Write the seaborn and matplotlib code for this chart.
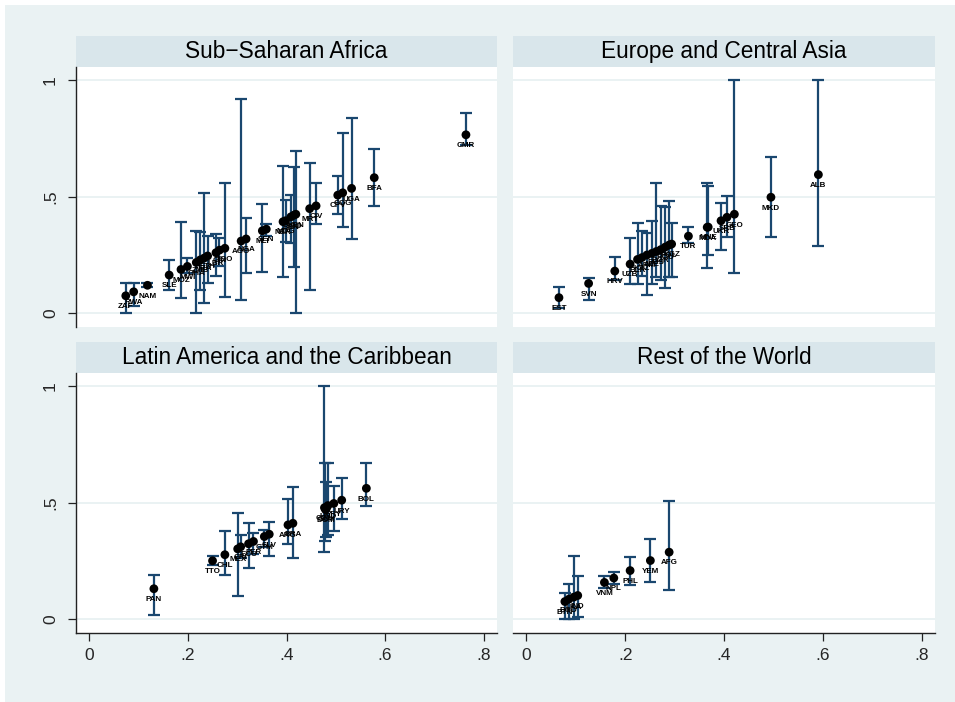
import numpy as np
import pandas as pd
import matplotlib
matplotlib.use('Agg')
import matplotlib.pyplot as plt
from matplotlib.patches import Rectangle
import seaborn as sns

# ── data ────────────────────────────────────────────────────
REGIONS = ["Sub\u2212Saharan Africa", "Europe and Central Asia",
           "Latin America and the Caribbean", "Rest of the World"]

ssa_code = ["ZAF", "RWA", "NAM", "SLE", "MOZ", "MWI", "GHA", "ZMB", "TZA", "ETH",
            "LBR", "GIN", "TGO", "AGO", "NGA", "MLI", "SEN", "NER", "MDG", "BEN",
            "SSD", "KEN", "MRT", "CIV", "CPV", "COG", "UGA", "BFA", "CMR"]
ssa_x = [.074, .090, .118, .162, .186, .199, .217, .225, .233, .240,
         .257, .264, .275, .308, .318, .351, .359, .393, .398, .409,
         .415, .419, .447, .460, .504, .514, .532, .578, .764]
ssa_y = [.074, .091, .119, .163, .187, .200, .217, .228, .236, .245,
         .259, .270, .278, .309, .318, .353, .360, .392, .396, .413,
         .420, .424, .448, .460, .506, .516, .535, .581, .765]
ssa_lo = [.000, .030, .110, .099, .064, .170, .000, .100, .041, .130,
          .160, .200, .070, .056, .170, .177, .330, .153, .306, .300,
          .196, .000, .099, .380, .425, .370, .318, .459, .720]
ssa_hi = [.127, .130, .130, .227, .389, .235, .353, .349, .517, .330,
          .340, .320, .557, .918, .406, .468, .380, .631, .485, .506,
          .625, .697, .645, .557, .588, .774, .835, .703, .857]

eca_code = ["EST", "SVN", "HRV", "UZB", "BLR", "KAZ", "ARM", "AZE", "RUS", "BGR",
            "ROU", "POL", "KGZ", "TUR", "MDA", "MNE", "UKR", "SRB", "GEO", "MKD",
            "ALB"]
eca_x = [.066, .126, .179, .210, .225, .234, .244, .254, .263, .272,
         .281, .289, .294, .328, .366, .368, .394, .406, .421, .495, .591]
eca_y = [.066, .127, .180, .210, .230, .238, .249, .256, .264, .272,
         .283, .292, .296, .330, .368, .369, .396, .411, .424, .497, .594]
eca_lo = [.020, .056, .140, .124, .123, .160, .077, .123, .156, .142,
          .106, .156, .156, .300, .192, .249, .270, .328, .170, .328, .287]
eca_hi = [.110, .150, .239, .320, .388, .350, .345, .396, .557, .459,
          .454, .482, .385, .370, .559, .545, .471, .502, 1.00, .668, 1.00]

lac_code = ["PAN", "TTO", "CHL", "MEX", "CRI", "ECU", "PER", "GTM", "SLV", "ARG",
            "BRA", "COL", "DOM", "GUY", "HND", "PRY", "URY", "BOL"]
lac_x = [.131, .250, .275, .301, .307, .323, .333, .355, .365, .403,
         .413, .477, .479, .481, .484, .496, .512, .562]
lac_y = [.130, .250, .276, .301, .310, .323, .333, .354, .364, .404,
         .411, .478, .470, .475, .487, .496, .510, .561]
lac_lo = [.018, .230, .187, .100, .260, .221, .280, .310, .271, .321,
          .260, .287, .334, .350, .360, .378, .430, .486]
lac_hi = [.190, .270, .377, .454, .360, .411, .370, .380, .416, .514,
          .567, 1.00, .669, .590, .669, .573, .607, .669]

row_code = ["BTN", "BGD", "LKA", "IND", "VNM", "NPL", "PHL", "YEM", "AFG"]
row_x = [.078, .086, .096, .104, .158, .177, .210, .251, .289]
row_y = [.075, .085, .094, .101, .157, .176, .208, .251, .287]
row_lo = [.000, .000, .000, .010, .135, .150, .147, .161, .123]
row_hi = [.110, .150, .271, .183, .186, .200, .268, .344, .507]

x_ticks = [0, .2, .4, .6, .8]
x_labels = ["0", ".2", ".4", ".6", ".8"]
y_ticks = [0, .5, 1]
y_labels = ["0", ".5", "1"]

frames = []
for reg, c, x, y, lo, hi in zip(
        REGIONS,
        [ssa_code, eca_code, lac_code, row_code],
        [ssa_x, eca_x, lac_x, row_x],
        [ssa_y, eca_y, lac_y, row_y],
        [ssa_lo, eca_lo, lac_lo, row_lo],
        [ssa_hi, eca_hi, lac_hi, row_hi]):
    frames.append(pd.DataFrame({"region": reg, "code": c, "x": x, "y": y,
                                "lo": lo, "hi": hi}))
df = pd.concat(frames, ignore_index=True)

# ── style ───────────────────────────────────────────────────
sns.set_style("white")
plt.rcParams['font.family'] = ['Liberation Sans', 'DejaVu Sans']

BG = "#EAF2F3"
STRIP = "#D9E6EB"
NAVY = "#1A476F"

W, H = 955, 702
fig = plt.figure(figsize=(W / 100, H / 100), dpi=100, facecolor="white")
fig.patches.append(Rectangle((5 / W, 0), 1, 1 - 5 / H, transform=fig.transFigure,
                             facecolor=BG, edgecolor="none", zorder=-10))

# panel boxes in pixels: left, right, top, bottom, strip top
boxes = [(76, 497, 67, 327, 36), (513, 935, 67, 327, 36),
         (76, 497, 373, 633, 342), (513, 935, 373, 633, 342)]

for i, (reg, (l, r, t, b, st)) in enumerate(zip(REGIONS, boxes)):
    ax = fig.add_axes([l / W, 1 - b / H, (r - l) / W, (b - t) / H])
    ax.set_facecolor("white")
    sub = df[df["region"] == reg]

    for yv in y_ticks:
        ax.axhline(yv, color=BG, lw=1.4, zorder=0)

    ax.errorbar(sub["x"], sub["y"],
                yerr=[sub["y"] - sub["lo"], sub["hi"] - sub["y"]],
                fmt="none", ecolor=NAVY, elinewidth=1.6, capsize=4,
                capthick=1.6, zorder=2)
    sns.scatterplot(data=sub, x="x", y="y", ax=ax, color="black", s=40,
                    edgecolor="none", zorder=3, legend=False)
    for _, rw in sub.iterrows():
        ax.annotate(rw["code"], (rw["x"], rw["y"]), xytext=(0, -7.8),
                    textcoords="offset points", ha="center", va="center",
                    fontsize=5.8, fontweight="bold", color="black", zorder=4)

    ax.set_xlim(-0.027, 0.827)
    ax.set_ylim(-0.06, 1.056)
    ax.set_xlabel(""); ax.set_ylabel("")
    for s in ax.spines.values():
        s.set_visible(False)

    left_col = i in (0, 2)
    bottom_row = i in (2, 3)
    if left_col:
        ax.spines["left"].set_visible(True)
        ax.spines["left"].set_color("#222222")
        ax.spines["left"].set_linewidth(1.0)
        ax.set_yticks(y_ticks)
        ax.set_yticklabels(y_labels, rotation=90, va="center", fontsize=12.5)
        ax.tick_params(axis="y", length=6, width=0.9, color="#222222", pad=7,
                       left=True)
    else:
        ax.set_yticks([])
    if bottom_row:
        ax.spines["bottom"].set_visible(True)
        ax.spines["bottom"].set_color("#222222")
        ax.spines["bottom"].set_linewidth(1.0)
        ax.set_xticks(x_ticks)
        ax.set_xticklabels(x_labels, fontsize=12.5)
        ax.tick_params(axis="x", length=6, width=0.9, color="#222222", pad=5,
                       bottom=True)
    else:
        ax.set_xticks([])

    # strip title
    sh = (t - st) / (b - t)
    ax.add_patch(Rectangle((0, 1), 1, sh, transform=ax.transAxes,
                           facecolor=STRIP, edgecolor="none", clip_on=False))
    ax.text(0.5, 1 + sh / 2, reg, transform=ax.transAxes, ha="center",
            va="center", fontsize=16.3, color="black")

plt.savefig("out.png", dpi=100, facecolor="white")
plt.close()
